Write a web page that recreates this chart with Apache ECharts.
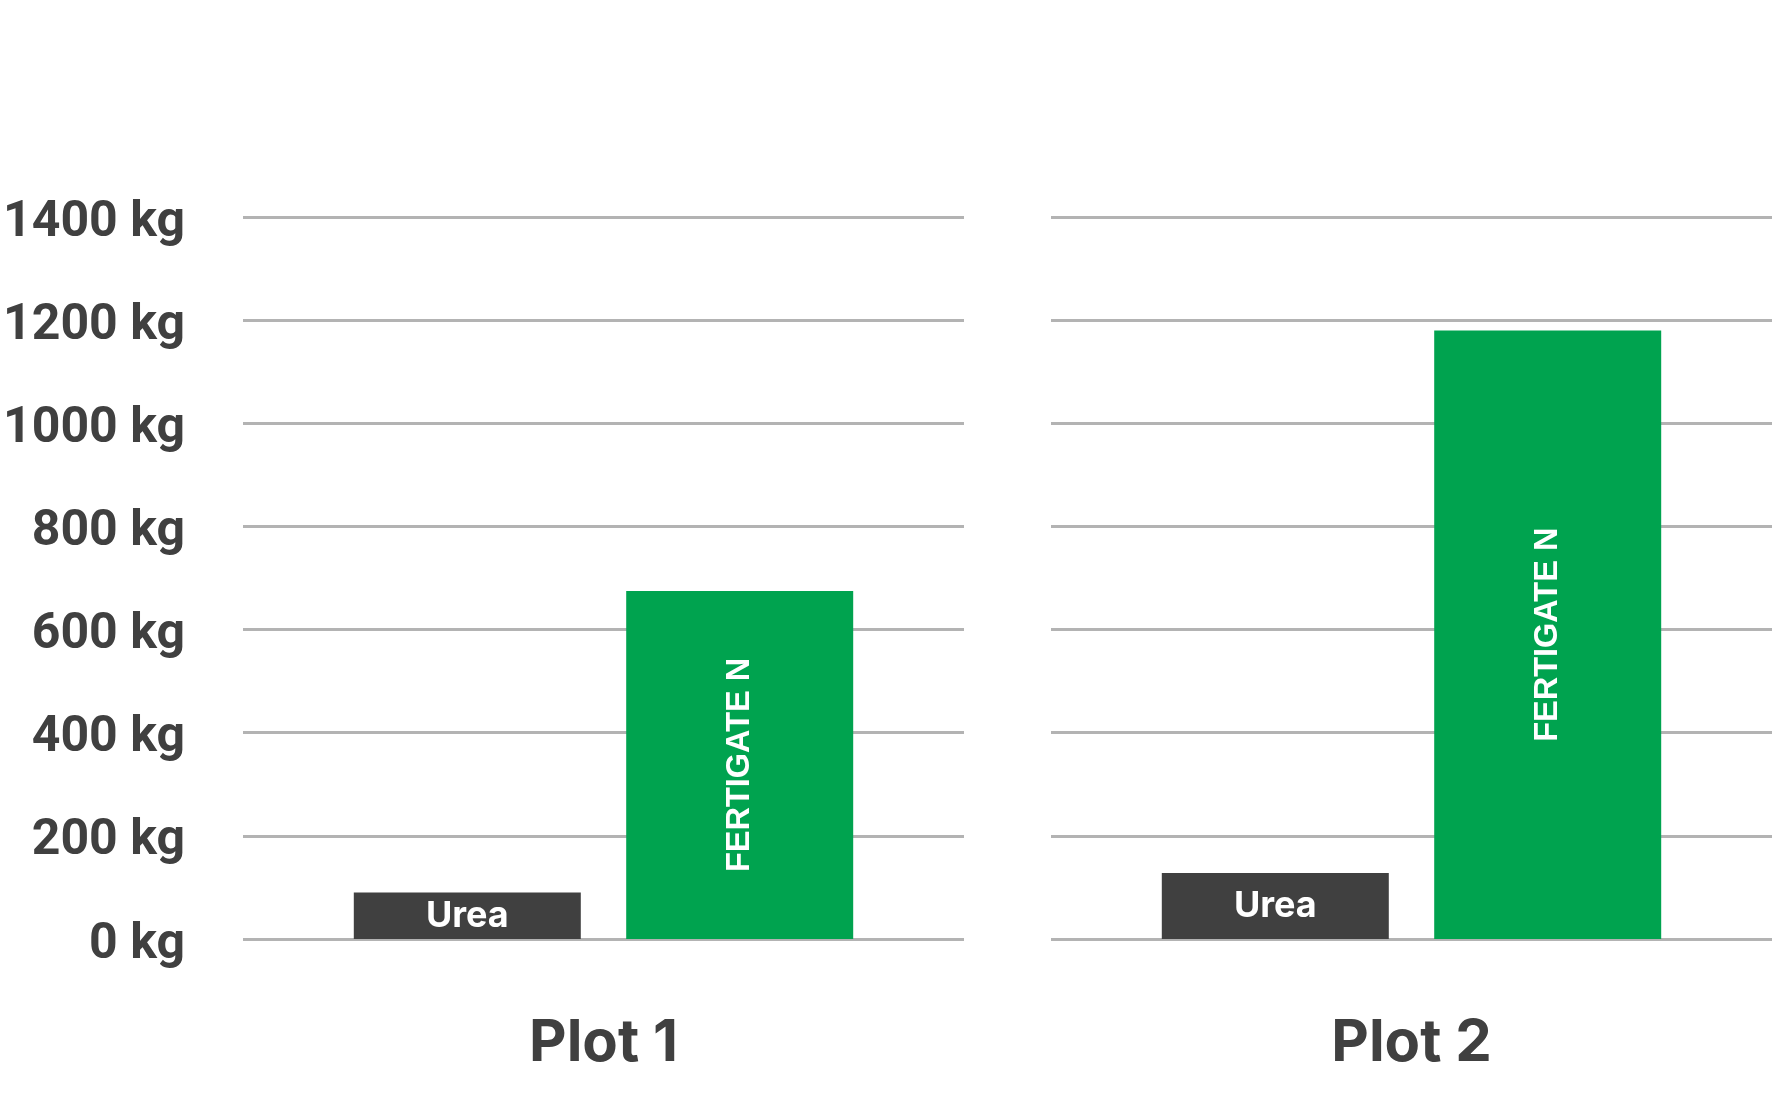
<!DOCTYPE html>
<html>
<head>
<meta charset="utf-8">
<script src="https://cdn.jsdelivr.net/npm/echarts@6/dist/echarts.min.js"></script>
<style>
  html, body { margin: 0; padding: 0; background: #fff; }
  #chart { width: 1772px; height: 1112px; }
</style>
</head>
<body>
<div id="chart"></div>
<script>
// data
const plots = ['Plot 1', 'Plot 2'];
const seriesNames = ['Urea', 'FERTIGATE N'];
const ureaValues = [90, 128];
const fertigateValues = [675, 1180];
const yMin = 0, yMax = 1400, yStep = 200;

const darkGrey = '#404040';
const green = '#00a34f';
const gridGrey = '#b3b3b3';

let chart = echarts.init(document.getElementById('chart'), null, { renderer: 'canvas' });

// one grid per plot
let grids = [];
let xAxes = [];
let yAxes = [];
let series = [];
plots.forEach(function (name, i) {
    grids.push({ left: 243 + i * 808, width: 721, top: 217, height: 722, outerBoundsMode: 'none', containLabel: false });
    xAxes.push({
        type: 'category',
        gridIndex: i,
        data: [name],
        axisLine: { show: false },
        axisTick: { show: false },
        axisLabel: {
            margin: 76,
            fontFamily: 'Inter',
            fontWeight: 'bold',
            fontSize: 58,
            lineHeight: 58,
            color: darkGrey
        }
    });
    yAxes.push({
        type: 'value',
        gridIndex: i,
        min: yMin,
        max: yMax,
        interval: yStep,
        axisLine: { show: false },
        axisTick: { show: false },
        splitLine: { lineStyle: { color: gridGrey, width: 3 } },
        axisLabel: {
            show: i === 0,
            margin: 58,
            // rich token with top padding nudges the text down onto the grid line
            formatter: function (v) { return '{v|' + v + ' kg}'; },
            rich: {
                v: {
                    fontFamily: 'Roboto',
                    fontWeight: 'bold',
                    fontSize: 50,
                    color: darkGrey,
                    padding: [12, 0, 0, 0]
                }
            }
        }
    });
    series.push({
        name: seriesNames[0],
        type: 'bar',
        xAxisIndex: i,
        yAxisIndex: i,
        data: [ureaValues[i]],
        barWidth: 227,
        barGap: '20%',
        itemStyle: { color: darkGrey },
        label: {
            show: true,
            position: 'inside',
            formatter: '{a}',
            color: '#fff',
            fontFamily: 'Inter',
            fontWeight: 'bold',
            fontSize: 36
        }
    });
    series.push({
        name: seriesNames[1],
        type: 'bar',
        xAxisIndex: i,
        yAxisIndex: i,
        data: [fertigateValues[i]],
        barWidth: 227,
        barGap: '20%',
        itemStyle: { color: green },
        label: {
            show: true,
            position: 'inside',
            rotate: 90,
            formatter: '{a}',
            color: '#fff',
            fontFamily: 'Liberation Sans',
            fontWeight: 'bold',
            fontSize: 32.5
        }
    });
});

chart.setOption({
    backgroundColor: '#ffffff',
    animation: false,
    grid: grids,
    xAxis: xAxes,
    yAxis: yAxes,
    series: series
});
</script>
</body>
</html>
